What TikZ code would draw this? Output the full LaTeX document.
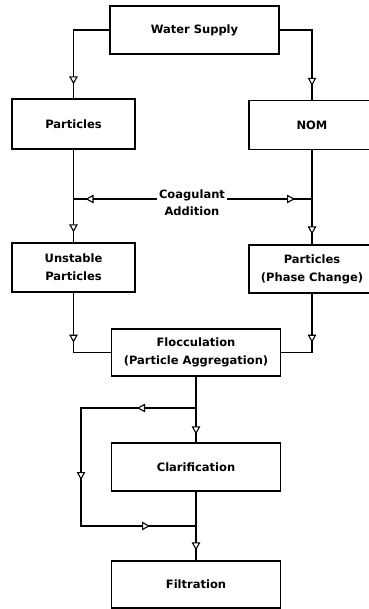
\documentclass[tikz,border=0pt]{standalone}
\usepackage{fontspec}
\setmainfont{DejaVu Sans}
\usetikzlibrary{arrows.meta, decorations.markings}

\tikzset{
    box/.style={draw, line width=1.3pt, minimum width=169pt, minimum height=48pt,
        inner sep=0pt, align=center, font=\bfseries\fontsize{11.5}{18}\selectfont},
    label/.style={inner sep=1.5pt, align=center, font=\bfseries\fontsize{11.5}{17}\selectfont},
    line/.style={line width=1.3pt},
    tipat/.style={postaction={decorate, decoration={markings,
        mark=at position #1 with {\arrow{Triangle[fill=white, length=8pt, width=8.5pt, line width=1.1pt]}}}}}
}

\begin{document}
\begin{tikzpicture}[x=1pt, y=-1pt]
    \useasboundingbox (0,0) rectangle (368,609);
    \node[box] (ws) at (194.5, 30) {Water Supply};
    \node[box, minimum width=123pt, minimum height=50pt] (part) at (73.5, 124) {Particles};
    \node[box, minimum width=126pt, minimum height=49pt] (nom) at (312, 125) {NOM};
    \node[label] (coag) at (192, 203) {Coagulant\\Addition};
    \coordinate (cj) at (192, 199);
    \node[box, minimum width=123pt, minimum height=49pt] (unst) at (73.5, 267.5) {Unstable\\Particles};
    \node[box, minimum width=126pt] (phase) at (312, 269) {Particles\\(Phase Change)};
    \node[box, minimum height=47pt] (floc) at (196, 352.5) {Flocculation\\(Particle Aggregation)};
    \node[box] (clar) at (196, 467) {Clarification};
    \node[box, minimum height=47pt] (filt) at (196, 584.5) {Filtration};
    \coordinate (j1) at (196, 408);
    \coordinate (bl) at (81, 467);
    \coordinate (j2) at (196, 526);

    \draw[line, tipat=-14pt] (ws.west) -| (part.north);
    \draw[line, tipat=-14pt] (ws.east) -| (nom.north);
    \draw[line, tipat=-10pt] (part.south) -- (unst.north);
    \draw[line, tipat=-10pt] (nom.south) -- (phase.north);
    \draw[line, tipat=-12pt] (coag.west |- cj) -- (part.south |- cj);
    \draw[line, tipat=-17pt] (coag.east |- cj) -- (nom.south |- cj);
    \draw[line, tipat=50pt] (unst.south) |- (floc.west);
    \draw[line, tipat=49pt] (phase.south) |- (floc.east);
    \draw[line, tipat=-8pt] (floc.south) -- (clar.north);
    \draw[line, tipat=-10pt] (clar.south) -- (filt.north);
    \draw[line, tipat=59pt, tipat=187pt, tipat=-46pt] (j1) -| (bl) |- (j2);
\end{tikzpicture}
\end{document}
